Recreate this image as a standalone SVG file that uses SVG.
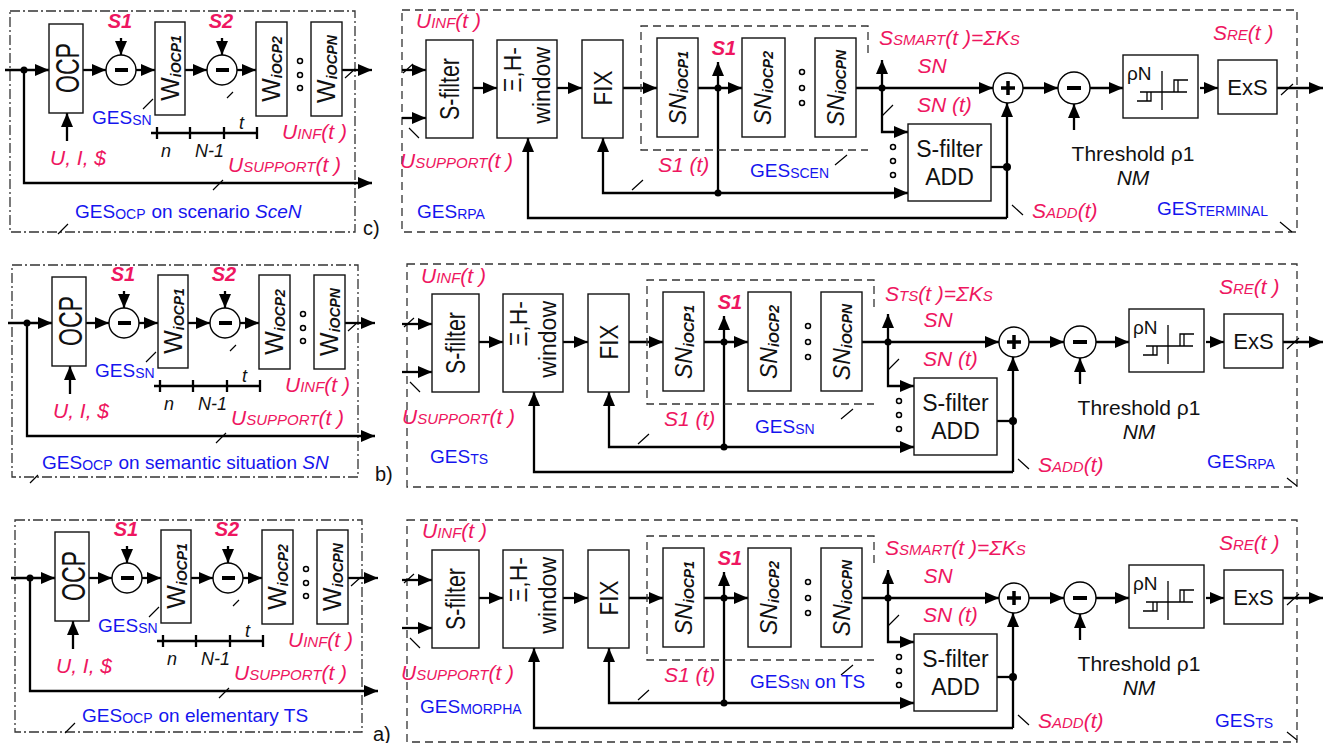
<svg xmlns="http://www.w3.org/2000/svg" width="1332" height="743" viewBox="0 0 1332 743">
<defs>
<marker id="ah" viewBox="0 0 14 12" refX="14" refY="6" markerWidth="14" markerHeight="12" markerUnits="userSpaceOnUse" orient="auto"><path d="M0,0 L14,6 L0,12 z" fill="#000"/></marker>
</defs>
<style>
.w{fill:none;stroke:#000;stroke-width:2.3}
.a{marker-end:url(#ah)}
.sl{fill:none;stroke:#000;stroke-width:1.2}
.bx{fill:#fff;stroke:#111;stroke-width:1.4}
.cir{fill:#fff;stroke:#000;stroke-width:1.4}
.bar{fill:none;stroke:#000;stroke-width:4}
.dot{fill:#000}
.hd{fill:#fff;stroke:#000;stroke-width:1.5}
.dd{fill:none;stroke:#333;stroke-width:1.3;stroke-dasharray:10 3 2 3}
.ds{fill:none;stroke:#333;stroke-width:1.3;stroke-dasharray:8 5}
.hy{fill:none;stroke:#000;stroke-width:1.3}
text{font-family:"Liberation Sans",Arial,sans-serif}
.r{fill:#EE1660;font-style:italic;font-size:21px}
.rb{fill:#EE1660;font-style:italic;font-weight:bold;font-size:20px}
.s{font-size:15px}
.g{fill:#1515EE;font-size:19px}
.gs{font-size:14px}
.k{fill:#111;font-size:21px}
.ki{fill:#111;font-style:italic;font-size:18px}
.m{text-anchor:middle}
.e{text-anchor:end}
.sub{font-size:14px;font-weight:bold;font-style:italic}
.big{font-size:25px}
.sn{font-size:23px;font-style:italic}
</style>
<rect width="1332" height="743" fill="#fff"/>

<g id="borders">
<rect class="dd" x="10" y="11" width="345" height="221"/>
<rect class="ds" x="402" y="10" width="895" height="222"/>
<rect class="dd" x="12" y="265" width="346" height="212"/>
<rect class="ds" x="407" y="264" width="890" height="223"/>
<rect class="dd" x="15" y="520" width="347" height="212"/>
<rect class="ds" x="407" y="520" width="890" height="222"/>
<path class="sl" d="M58,234 L68,224 M1280,222 L1292,232 M30,483 L38,475 M1287,478 L1297,486 M65,733 L75,723 M1287,732 L1297,740"/>
<text class="k" style="font-size:20px" x="363" y="235">c)</text>
<text class="k" style="font-size:20px" x="375" y="481">b)</text>
<text class="k" style="font-size:20px" x="373" y="741">a)</text>
</g>

<!-- ================= c) left ================= -->
<g id="c-left">
<g id="c-left-connectors">
<path class="w a" d="M5,70 H49"/>
<path class="w a" d="M83,70 H106"/>
<path class="w a" d="M121,38 V55"/>
<path class="w a" d="M136,70 H155"/>
<path class="w a" d="M185,70 H207"/>
<path class="w a" d="M222,38 V55"/>
<path class="w a" d="M237,70 H256"/>
<path class="w a" d="M342,70 H372"/>
<path class="w a" d="M67,141 V113"/>
<path class="w a" d="M24,70 V183 H372"/>
<path class="w" d="M151,133 H257 M157,127 V139 M190,127 V139 M224,127 V139 M257,127 V139"/>
<path class="sl" d="M345,78 L355,69 M227,98 L233,92 M143,109 L153,99 M213,190 L223,180"/>
<circle class="dot" cx="24" cy="70" r="3.5"/>
</g>
<g id="c-ocp"><rect class="bx" x="49" y="24" width="34" height="89"/><text class="k m" style="font-size:34px" textLength="50" lengthAdjust="spacingAndGlyphs" transform="translate(79,68) rotate(-90)">OCP</text></g>
<g id="c-sub1"><circle class="cir" cx="121" cy="70" r="15"/><path class="bar" d="M115,70 H128"/></g>
<g id="c-w1"><rect class="bx" x="155" y="22" width="30" height="93"/><text class="k m" transform="translate(179,68) rotate(-90)"><tspan class="big">W</tspan><tspan class="sub" dy="2">iOCP1</tspan></text></g>
<g id="c-sub2"><circle class="cir" cx="222" cy="70" r="15"/><path class="bar" d="M216,70 H229"/></g>
<g id="c-w2"><rect class="bx" x="256" y="22" width="31" height="94"/><text class="k m" transform="translate(280,69) rotate(-90)"><tspan class="big">W</tspan><tspan class="sub" dy="2">iOCP2</tspan></text></g>
<g id="c-wdots"><circle class="hd" cx="300" cy="61" r="2.5"/><circle class="hd" cx="300" cy="75" r="2.5"/><circle class="hd" cx="300" cy="88" r="2.5"/></g>
<g id="c-wn"><rect class="bx" x="311" y="22" width="31" height="94"/><text class="k m" transform="translate(335,69) rotate(-90)"><tspan class="big">W</tspan><tspan class="sub" dy="2">iOCPN</tspan></text></g>
<g id="c-left-labels">
<text class="rb m" x="120" y="28">S1</text>
<text class="rb m" x="221" y="28">S2</text>
<text class="g" x="92" y="124">GES<tspan class="gs" dy="1">SN</tspan></text>
<text class="ki" x="239" y="129">t</text>
<text class="ki" x="161" y="157">n</text>
<text class="ki" x="195" y="157">N-1</text>
<text class="r" x="282" y="139">U<tspan class="s">INF</tspan>(t )</text>
<text class="r" x="50" y="165">U, I, $</text>
<text class="r" x="228" y="172">U<tspan class="s">SUPPORT</tspan>(t )</text>
<text class="g" x="75" y="218">GES<tspan class="gs" dy="1">OCP</tspan><tspan dx="6" dy="-1">on scenario </tspan><tspan style="font-style:italic">SceN</tspan></text>
</g>
</g>

<!-- ================= c) right ================= -->
<g id="c-right">
<g id="c-right-connectors">
<path class="w a" d="M402,70 H426"/>
<path class="w a" d="M402,118 H426"/>
<path class="w a" d="M473,88 H497"/>
<path class="w a" d="M557,88 H582"/>
<path class="w a" d="M623,88 H657"/>
<path class="w a" d="M698,88 H742"/>
<path class="w a" d="M718,88 V62"/>
<path class="w" d="M718,88 V193"/>
<path class="w a" d="M718,193 H603 V138"/>
<path class="w a" d="M718,193 H908"/>
<path class="w a" d="M856,88 H993"/>
<path class="w a" d="M882,88 V60"/>
<path class="w a" d="M882,88 V132 H908"/>
<path class="w" d="M991,167 H1007"/>
<path class="w a" d="M1007,218 V103"/>
<path class="w a" d="M1007,218 H528 V138"/>
<path class="w a" d="M1023,88 H1058"/>
<path class="w a" d="M1074,130 V104"/>
<path class="w a" d="M1090,88 H1123"/>
<path class="w a" d="M1200,88 H1218"/>
<path class="w a" d="M1277,88 H1323"/>
<path class="sl" d="M403,73 L413,64 M409,128 L419,138 M632,190 L643,180 M835,165 L847,155 M882,116 L893,105 M1012,205 L1023,215 M1281,95 L1293,84"/>
<circle class="dot" cx="718" cy="88" r="3.5"/><circle class="dot" cx="718" cy="193" r="3.5"/><circle class="dot" cx="882" cy="88" r="3.5"/><circle class="dot" cx="1007" cy="167" r="4"/>
</g>
<g id="c-sfilter"><rect class="bx" x="426" y="40" width="47" height="98"/><text class="k m" style="font-size:27px" textLength="62" lengthAdjust="spacingAndGlyphs" transform="translate(459,89) rotate(-90)">S-filter</text></g>
<g id="c-window"><rect class="bx" x="497" y="40" width="60" height="98"/><text class="k e" style="font-size:23px" transform="translate(521,47) rotate(-90)">Ξ,H-</text><text class="k e" style="font-size:23px" transform="translate(550,47) rotate(-90)">window</text></g>
<g id="c-fix"><rect class="bx" x="582" y="40" width="41" height="98"/><text class="k m" style="font-size:26px" textLength="35" lengthAdjust="spacingAndGlyphs" transform="translate(612,88) rotate(-90)">FIX</text></g>
<g id="c-scen-box"><path class="ds" d="M868,53 V26 H641 V150 H868"/></g>
<g id="c-sn1"><rect class="bx" x="657" y="38" width="41" height="99"/><text class="k m" transform="translate(686,88) rotate(-90)"><tspan class="sn">SN</tspan><tspan class="sub" dy="2">iOCP1</tspan></text></g>
<g id="c-sn2"><rect class="bx" x="742" y="38" width="43" height="99"/><text class="k m" transform="translate(771,88) rotate(-90)"><tspan class="sn">SN</tspan><tspan class="sub" dy="2">iOCP2</tspan></text></g>
<g id="c-sndots"><circle class="hd" cx="802" cy="72" r="2.5"/><circle class="hd" cx="802" cy="88" r="2.5"/><circle class="hd" cx="802" cy="103" r="2.5"/></g>
<g id="c-snn"><rect class="bx" x="815" y="38" width="41" height="99"/><text class="k m" transform="translate(844,88) rotate(-90)"><tspan class="sn">SN</tspan><tspan class="sub" dy="2">iOCPN</tspan></text></g>
<g id="c-adddots"><circle class="hd" cx="893" cy="147" r="2.5"/><circle class="hd" cx="893" cy="161" r="2.5"/><circle class="hd" cx="893" cy="175" r="2.5"/></g>
<g id="c-add"><rect class="bx" x="908" y="124" width="83" height="77"/><text class="k m" style="font-size:23px" x="949.5" y="157">S-filter</text><text class="k m" style="font-size:23px" x="949.5" y="185">ADD</text></g>
<g id="c-plus"><circle class="cir" cx="1008" cy="88" r="15"/><path class="bar" style="stroke-width:3.5" d="M1001,88 H1015 M1008,81 V95"/></g>
<g id="c-minus"><circle class="cir" cx="1074" cy="88" r="16"/><path class="bar" d="M1067,88 H1081"/></g>
<g id="c-rhon"><rect class="bx" x="1123" y="55" width="75" height="63"/><text class="k" style="font-size:19px" x="1127" y="80">ρN</text><path class="hy" d="M1137,101 H1151 V92 M1147,101 V92 M1140,92 H1187 M1162,71 V110 M1174,92 V80 H1188 M1178,92 V80"/></g>
<g id="c-exs"><rect class="bx" x="1218" y="60" width="59" height="54"/><text class="k m" style="font-size:22px" x="1247.5" y="95">ExS</text></g>
<g id="c-right-labels">
<text class="r" x="416" y="28">U<tspan class="s">INF</tspan>(t )</text>
<text class="r" x="400" y="168">U<tspan class="s">SUPPORT</tspan>(t )</text>
<text class="g" x="417" y="218">GES<tspan class="gs" dy="1">RPA</tspan></text>
<text class="rb m" x="724" y="55">S1</text>
<text class="r" x="658" y="172">S1 (t)</text>
<text class="g" x="750" y="177">GES<tspan class="gs" dy="1">SCEN</tspan></text>
<text class="r" x="879" y="45">S<tspan class="s">SMART</tspan>(t )=ΣK<tspan class="s">S</tspan></text>
<text class="r m" x="932" y="73">SN</text>
<text class="r" x="917" y="112">SN (t)</text>
<text class="r" x="1032" y="218">S<tspan class="s">ADD</tspan>(t)</text>
<text class="r" x="1213" y="40">S<tspan class="s">RE</tspan>(t )</text>
<text class="k m" x="1133" y="161">Threshold ρ1</text>
<text class="k m" style="font-style:italic" x="1133" y="185">NM</text>
<text class="g" x="1157" y="215">GES<tspan class="gs" dy="1">TERMINAL</tspan></text>
</g>
</g>

<!-- ================= b) left ================= -->
<g id="b-left" transform="translate(3,253)">
<g id="b-left-connectors">
<path class="w a" d="M5,70 H49"/>
<path class="w a" d="M83,70 H106"/>
<path class="w a" d="M121,38 V55"/>
<path class="w a" d="M136,70 H155"/>
<path class="w a" d="M185,70 H207"/>
<path class="w a" d="M222,38 V55"/>
<path class="w a" d="M237,70 H256"/>
<path class="w a" d="M342,70 H372"/>
<path class="w a" d="M67,141 V113"/>
<path class="w a" d="M24,70 V183 H372"/>
<path class="w" d="M151,133 H257 M157,127 V139 M190,127 V139 M224,127 V139 M257,127 V139"/>
<path class="sl" d="M345,78 L355,69 M227,98 L233,92 M143,109 L153,99 M213,190 L223,180"/>
<circle class="dot" cx="24" cy="70" r="3.5"/>
</g>
<g id="b-ocp"><rect class="bx" x="49" y="24" width="34" height="89"/><text class="k m" style="font-size:34px" textLength="50" lengthAdjust="spacingAndGlyphs" transform="translate(79,68) rotate(-90)">OCP</text></g>
<g id="b-sub1"><circle class="cir" cx="121" cy="70" r="15"/><path class="bar" d="M115,70 H128"/></g>
<g id="b-w1"><rect class="bx" x="155" y="22" width="30" height="93"/><text class="k m" transform="translate(179,68) rotate(-90)"><tspan class="big">W</tspan><tspan class="sub" dy="2">iOCP1</tspan></text></g>
<g id="b-sub2"><circle class="cir" cx="222" cy="70" r="15"/><path class="bar" d="M216,70 H229"/></g>
<g id="b-w2"><rect class="bx" x="256" y="22" width="31" height="94"/><text class="k m" transform="translate(280,69) rotate(-90)"><tspan class="big">W</tspan><tspan class="sub" dy="2">iOCP2</tspan></text></g>
<g id="b-wdots"><circle class="hd" cx="300" cy="61" r="2.5"/><circle class="hd" cx="300" cy="75" r="2.5"/><circle class="hd" cx="300" cy="88" r="2.5"/></g>
<g id="b-wn"><rect class="bx" x="311" y="22" width="31" height="94"/><text class="k m" transform="translate(335,69) rotate(-90)"><tspan class="big">W</tspan><tspan class="sub" dy="2">iOCPN</tspan></text></g>
<g id="b-left-labels">
<text class="rb m" x="120" y="28">S1</text>
<text class="rb m" x="221" y="28">S2</text>
<text class="g" x="92" y="124">GES<tspan class="gs" dy="1">SN</tspan></text>
<text class="ki" x="239" y="129">t</text>
<text class="ki" x="161" y="157">n</text>
<text class="ki" x="195" y="157">N-1</text>
<text class="r" x="282" y="139">U<tspan class="s">INF</tspan>(t )</text>
<text class="r" x="50" y="165">U, I, $</text>
<text class="r" x="228" y="172">U<tspan class="s">SUPPORT</tspan>(t )</text>
<text class="g" x="39" y="216">GES<tspan class="gs" dy="1">OCP</tspan><tspan dx="6" dy="-1">on semantic situation </tspan><tspan style="font-style:italic">SN</tspan></text>
</g>
</g>

<!-- ================= b) right ================= -->
<g id="b-right" transform="translate(6,254)">
<g id="b-right-connectors">
<path class="w a" d="M396,70 H426"/>
<path class="w a" d="M396,118 H426"/>
<path class="w a" d="M473,88 H497"/>
<path class="w a" d="M557,88 H582"/>
<path class="w a" d="M623,88 H657"/>
<path class="w a" d="M698,88 H742"/>
<path class="w a" d="M718,88 V62"/>
<path class="w" d="M718,88 V193"/>
<path class="w a" d="M718,193 H603 V138"/>
<path class="w a" d="M718,193 H908"/>
<path class="w a" d="M856,88 H993"/>
<path class="w a" d="M882,88 V60"/>
<path class="w a" d="M882,88 V132 H908"/>
<path class="w" d="M991,167 H1007"/>
<path class="w a" d="M1007,218 V103"/>
<path class="w a" d="M1007,218 H528 V138"/>
<path class="w a" d="M1023,88 H1058"/>
<path class="w a" d="M1074,130 V104"/>
<path class="w a" d="M1090,88 H1123"/>
<path class="w a" d="M1200,88 H1218"/>
<path class="w a" d="M1277,88 H1317"/>
<path class="sl" d="M398,73 L408,64 M404,128 L414,138 M632,190 L643,180 M835,165 L847,155 M882,116 L893,105 M1012,205 L1023,215 M1281,95 L1293,84"/>
<circle class="dot" cx="718" cy="88" r="3.5"/><circle class="dot" cx="718" cy="193" r="3.5"/><circle class="dot" cx="882" cy="88" r="3.5"/><circle class="dot" cx="1007" cy="167" r="4"/>
</g>
<g id="b-sfilter"><rect class="bx" x="426" y="40" width="47" height="98"/><text class="k m" style="font-size:27px" textLength="62" lengthAdjust="spacingAndGlyphs" transform="translate(459,89) rotate(-90)">S-filter</text></g>
<g id="b-window"><rect class="bx" x="497" y="40" width="60" height="98"/><text class="k e" style="font-size:23px" transform="translate(521,47) rotate(-90)">Ξ,H-</text><text class="k e" style="font-size:23px" transform="translate(550,47) rotate(-90)">window</text></g>
<g id="b-fix"><rect class="bx" x="582" y="40" width="41" height="98"/><text class="k m" style="font-size:26px" textLength="35" lengthAdjust="spacingAndGlyphs" transform="translate(612,88) rotate(-90)">FIX</text></g>
<g id="b-sn-box"><path class="ds" d="M868,53 V26 H641 V150 H868"/></g>
<g id="b-sn1"><rect class="bx" x="657" y="38" width="41" height="99"/><text class="k m" transform="translate(686,88) rotate(-90)"><tspan class="sn">SN</tspan><tspan class="sub" dy="2">iOCP1</tspan></text></g>
<g id="b-sn2"><rect class="bx" x="742" y="38" width="43" height="99"/><text class="k m" transform="translate(771,88) rotate(-90)"><tspan class="sn">SN</tspan><tspan class="sub" dy="2">iOCP2</tspan></text></g>
<g id="b-sndots"><circle class="hd" cx="802" cy="72" r="2.5"/><circle class="hd" cx="802" cy="88" r="2.5"/><circle class="hd" cx="802" cy="103" r="2.5"/></g>
<g id="b-snn"><rect class="bx" x="815" y="38" width="41" height="99"/><text class="k m" transform="translate(844,88) rotate(-90)"><tspan class="sn">SN</tspan><tspan class="sub" dy="2">iOCPN</tspan></text></g>
<g id="b-adddots"><circle class="hd" cx="893" cy="147" r="2.5"/><circle class="hd" cx="893" cy="161" r="2.5"/><circle class="hd" cx="893" cy="175" r="2.5"/></g>
<g id="b-add"><rect class="bx" x="908" y="124" width="83" height="77"/><text class="k m" style="font-size:23px" x="949.5" y="157">S-filter</text><text class="k m" style="font-size:23px" x="949.5" y="185">ADD</text></g>
<g id="b-plus"><circle class="cir" cx="1008" cy="88" r="15"/><path class="bar" style="stroke-width:3.5" d="M1001,88 H1015 M1008,81 V95"/></g>
<g id="b-minus"><circle class="cir" cx="1074" cy="88" r="16"/><path class="bar" d="M1067,88 H1081"/></g>
<g id="b-rhon"><rect class="bx" x="1123" y="55" width="75" height="63"/><text class="k" style="font-size:19px" x="1127" y="80">ρN</text><path class="hy" d="M1137,101 H1151 V92 M1147,101 V92 M1140,92 H1187 M1162,71 V110 M1174,92 V80 H1188 M1178,92 V80"/></g>
<g id="b-exs"><rect class="bx" x="1218" y="60" width="59" height="54"/><text class="k m" style="font-size:22px" x="1247.5" y="95">ExS</text></g>
<g id="b-right-labels">
<text class="r" x="415" y="29">U<tspan class="s">INF</tspan>(t )</text>
<text class="r" x="396" y="170">U<tspan class="s">SUPPORT</tspan>(t )</text>
<text class="g" x="424" y="209">GES<tspan class="gs" dy="1">TS</tspan></text>
<text class="rb m" x="724" y="55">S1</text>
<text class="r" x="658" y="172">S1 (t)</text>
<text class="g" x="749" y="179">GES<tspan class="gs" dy="1">SN</tspan></text>
<text class="r" x="879" y="47">S<tspan class="s">TS</tspan>(t )=ΣK<tspan class="s">S</tspan></text>
<text class="r m" x="932" y="73">SN</text>
<text class="r" x="917" y="112">SN (t)</text>
<text class="r" x="1032" y="218">S<tspan class="s">ADD</tspan>(t)</text>
<text class="r" x="1213" y="40">S<tspan class="s">RE</tspan>(t )</text>
<text class="k m" x="1133" y="161">Threshold ρ1</text>
<text class="k m" style="font-style:italic" x="1133" y="185">NM</text>
<text class="g" x="1201" y="214">GES<tspan class="gs" dy="1">RPA</tspan></text>
</g>
</g>

<!-- ================= a) left ================= -->
<g id="a-left" transform="translate(6,508)">
<g id="a-left-connectors">
<path class="w a" d="M5,70 H49"/>
<path class="w a" d="M83,70 H106"/>
<path class="w a" d="M121,38 V55"/>
<path class="w a" d="M136,70 H155"/>
<path class="w a" d="M185,70 H207"/>
<path class="w a" d="M222,38 V55"/>
<path class="w a" d="M237,70 H256"/>
<path class="w a" d="M342,70 H372"/>
<path class="w a" d="M67,141 V113"/>
<path class="w a" d="M24,70 V183 H372"/>
<path class="w" d="M151,133 H257 M157,127 V139 M190,127 V139 M224,127 V139 M257,127 V139"/>
<path class="sl" d="M345,78 L355,69 M227,98 L233,92 M143,109 L153,99 M213,190 L223,180"/>
<circle class="dot" cx="24" cy="70" r="3.5"/>
</g>
<g id="a-ocp"><rect class="bx" x="49" y="24" width="34" height="89"/><text class="k m" style="font-size:34px" textLength="50" lengthAdjust="spacingAndGlyphs" transform="translate(79,68) rotate(-90)">OCP</text></g>
<g id="a-sub1"><circle class="cir" cx="121" cy="70" r="15"/><path class="bar" d="M115,70 H128"/></g>
<g id="a-w1"><rect class="bx" x="155" y="22" width="30" height="93"/><text class="k m" transform="translate(179,68) rotate(-90)"><tspan class="big">W</tspan><tspan class="sub" dy="2">iOCP1</tspan></text></g>
<g id="a-sub2"><circle class="cir" cx="222" cy="70" r="15"/><path class="bar" d="M216,70 H229"/></g>
<g id="a-w2"><rect class="bx" x="256" y="22" width="31" height="94"/><text class="k m" transform="translate(280,69) rotate(-90)"><tspan class="big">W</tspan><tspan class="sub" dy="2">iOCP2</tspan></text></g>
<g id="a-wdots"><circle class="hd" cx="300" cy="61" r="2.5"/><circle class="hd" cx="300" cy="75" r="2.5"/><circle class="hd" cx="300" cy="88" r="2.5"/></g>
<g id="a-wn"><rect class="bx" x="311" y="22" width="31" height="94"/><text class="k m" transform="translate(335,69) rotate(-90)"><tspan class="big">W</tspan><tspan class="sub" dy="2">iOCPN</tspan></text></g>
<g id="a-left-labels">
<text class="rb m" x="120" y="28">S1</text>
<text class="rb m" x="221" y="28">S2</text>
<text class="g" x="92" y="124">GES<tspan class="gs" dy="1">SN</tspan></text>
<text class="ki" x="239" y="129">t</text>
<text class="ki" x="161" y="157">n</text>
<text class="ki" x="195" y="157">N-1</text>
<text class="r" x="282" y="139">U<tspan class="s">INF</tspan>(t )</text>
<text class="r" x="50" y="165">U, I, $</text>
<text class="r" x="228" y="172">U<tspan class="s">SUPPORT</tspan>(t )</text>
<text class="g" x="76" y="214">GES<tspan class="gs" dy="1">OCP</tspan><tspan dx="6" dy="-1">on elementary TS</tspan></text>
</g>
</g>

<!-- ================= a) right ================= -->
<g id="a-right" transform="translate(6,510)">
<g id="a-right-connectors">
<path class="w a" d="M396,70 H426"/>
<path class="w a" d="M396,118 H426"/>
<path class="w a" d="M473,88 H497"/>
<path class="w a" d="M557,88 H582"/>
<path class="w a" d="M623,88 H657"/>
<path class="w a" d="M698,88 H742"/>
<path class="w a" d="M718,88 V62"/>
<path class="w" d="M718,88 V193"/>
<path class="w a" d="M718,193 H603 V138"/>
<path class="w a" d="M718,193 H908"/>
<path class="w a" d="M856,88 H993"/>
<path class="w a" d="M882,88 V60"/>
<path class="w a" d="M882,88 V132 H908"/>
<path class="w" d="M991,167 H1007"/>
<path class="w a" d="M1007,218 V103"/>
<path class="w a" d="M1007,218 H528 V138"/>
<path class="w a" d="M1023,88 H1058"/>
<path class="w a" d="M1074,130 V104"/>
<path class="w a" d="M1090,88 H1123"/>
<path class="w a" d="M1200,88 H1218"/>
<path class="w a" d="M1277,88 H1317"/>
<path class="sl" d="M398,73 L408,64 M404,128 L414,138 M632,190 L643,180 M835,165 L847,155 M882,116 L893,105 M1012,205 L1023,215 M1281,95 L1293,84"/>
<circle class="dot" cx="718" cy="88" r="3.5"/><circle class="dot" cx="718" cy="193" r="3.5"/><circle class="dot" cx="882" cy="88" r="3.5"/><circle class="dot" cx="1007" cy="167" r="4"/>
</g>
<g id="a-sfilter"><rect class="bx" x="426" y="40" width="47" height="98"/><text class="k m" style="font-size:27px" textLength="62" lengthAdjust="spacingAndGlyphs" transform="translate(459,89) rotate(-90)">S-filter</text></g>
<g id="a-window"><rect class="bx" x="497" y="40" width="60" height="98"/><text class="k e" style="font-size:23px" transform="translate(521,47) rotate(-90)">Ξ,H-</text><text class="k e" style="font-size:23px" transform="translate(550,47) rotate(-90)">window</text></g>
<g id="a-fix"><rect class="bx" x="582" y="40" width="41" height="98"/><text class="k m" style="font-size:26px" textLength="35" lengthAdjust="spacingAndGlyphs" transform="translate(612,88) rotate(-90)">FIX</text></g>
<g id="a-sn-box"><path class="ds" d="M868,53 V26 H641 V150 H868"/></g>
<g id="a-sn1"><rect class="bx" x="657" y="38" width="41" height="99"/><text class="k m" transform="translate(686,88) rotate(-90)"><tspan class="sn">SN</tspan><tspan class="sub" dy="2">iOCP1</tspan></text></g>
<g id="a-sn2"><rect class="bx" x="742" y="38" width="43" height="99"/><text class="k m" transform="translate(771,88) rotate(-90)"><tspan class="sn">SN</tspan><tspan class="sub" dy="2">iOCP2</tspan></text></g>
<g id="a-sndots"><circle class="hd" cx="802" cy="72" r="2.5"/><circle class="hd" cx="802" cy="88" r="2.5"/><circle class="hd" cx="802" cy="103" r="2.5"/></g>
<g id="a-snn"><rect class="bx" x="815" y="38" width="41" height="99"/><text class="k m" transform="translate(844,88) rotate(-90)"><tspan class="sn">SN</tspan><tspan class="sub" dy="2">iOCPN</tspan></text></g>
<g id="a-adddots"><circle class="hd" cx="893" cy="147" r="2.5"/><circle class="hd" cx="893" cy="161" r="2.5"/><circle class="hd" cx="893" cy="175" r="2.5"/></g>
<g id="a-add"><rect class="bx" x="908" y="124" width="83" height="77"/><text class="k m" style="font-size:23px" x="949.5" y="157">S-filter</text><text class="k m" style="font-size:23px" x="949.5" y="185">ADD</text></g>
<g id="a-plus"><circle class="cir" cx="1008" cy="88" r="15"/><path class="bar" style="stroke-width:3.5" d="M1001,88 H1015 M1008,81 V95"/></g>
<g id="a-minus"><circle class="cir" cx="1074" cy="88" r="16"/><path class="bar" d="M1067,88 H1081"/></g>
<g id="a-rhon"><rect class="bx" x="1123" y="55" width="75" height="63"/><text class="k" style="font-size:19px" x="1127" y="80">ρN</text><path class="hy" d="M1137,101 H1151 V92 M1147,101 V92 M1140,92 H1187 M1162,71 V110 M1174,92 V80 H1188 M1178,92 V80"/></g>
<g id="a-exs"><rect class="bx" x="1218" y="60" width="59" height="54"/><text class="k m" style="font-size:22px" x="1247.5" y="95">ExS</text></g>
<g id="a-right-labels">
<text class="r" x="416" y="28">U<tspan class="s">INF</tspan>(t )</text>
<text class="r" x="395" y="170">U<tspan class="s">SUPPORT</tspan>(t )</text>
<text class="g" x="414" y="203">GES<tspan class="gs" dy="1">MORPHA</tspan></text>
<text class="rb m" x="724" y="55">S1</text>
<text class="r" x="658" y="172">S1 (t)</text>
<text class="g" x="744" y="178">GES<tspan class="gs" dy="1">SN</tspan><tspan dy="-1"> on TS</tspan></text>
<text class="r" x="879" y="45">S<tspan class="s">SMART</tspan>(t )=ΣK<tspan class="s">S</tspan></text>
<text class="r m" x="932" y="73">SN</text>
<text class="r" x="917" y="112">SN (t)</text>
<text class="r" x="1032" y="218">S<tspan class="s">ADD</tspan>(t)</text>
<text class="r" x="1213" y="40">S<tspan class="s">RE</tspan>(t )</text>
<text class="k m" x="1133" y="161">Threshold ρ1</text>
<text class="k m" style="font-style:italic" x="1133" y="185">NM</text>
<text class="g" x="1209" y="217">GES<tspan class="gs" dy="1">TS</tspan></text>
</g>
</g>
</svg>
